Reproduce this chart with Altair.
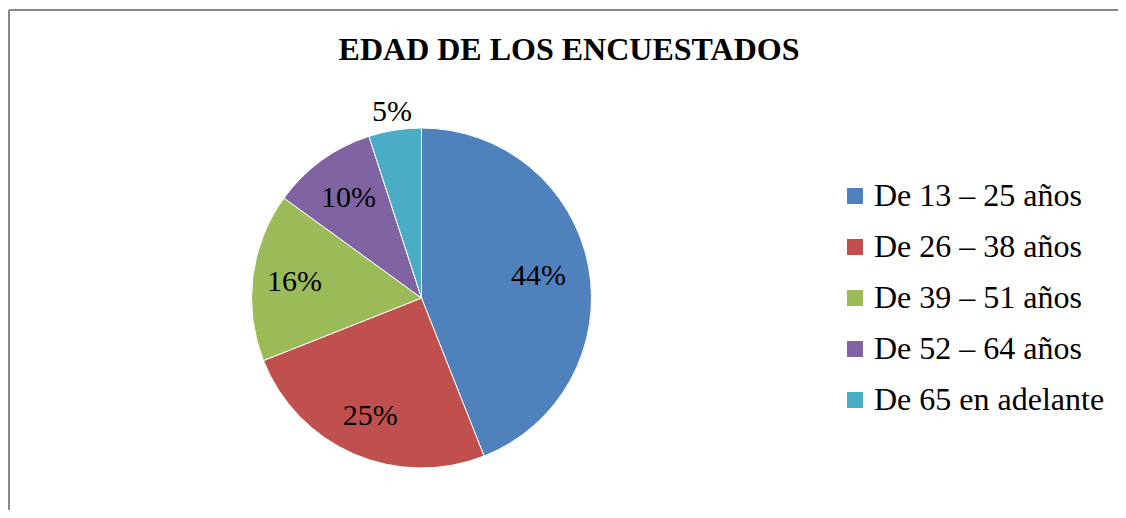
import altair as alt
import pandas as pd

categories = ["De 13 – 25 años", "De 26 – 38 años", "De 39 – 51 años", "De 52 – 64 años", "De 65 en adelante"]
values = [44, 25, 16, 10, 5]
labels = ["44%", "25%", "16%", "10%", "5%"]
label_radius = [119, 129, 128, 124, 188]
colors = ["#4F81BD", "#C0504D", "#9BBB59", "#8064A2", "#4BACC6"]
title_text = "EDAD DE LOS ENCUESTADOS"

df = pd.DataFrame({
    "cat": categories,
    "val": values,
    "lab": labels,
    "r": label_radius,
    "ord": list(range(len(categories))),
})

FONT = "Liberation Serif"
CX, CY = 413.5, 290
theta_scale = alt.Scale(domain=[0, 100])

pie = alt.Chart(df).mark_arc(outerRadius=170, stroke="white", strokeWidth=1).encode(
    theta=alt.Theta("val:Q", stack=True, scale=theta_scale),
    order=alt.Order("ord:Q"),
    x=alt.value(CX),
    y=alt.value(CY),
    color=alt.Color(
        "cat:N",
        scale=alt.Scale(domain=categories, range=colors),
        sort=categories,
        legend=alt.Legend(
            orient="none", legendX=831, legendY=172, title=None,
            symbolType="square", symbolSize=256, symbolStrokeWidth=0,
            labelFont=FONT, labelFontSize=32, labelColor="black",
            labelOffset=3, rowPadding=19, padding=0, labelLimit=400,
        ),
    ),
)

text = alt.Chart(df).transform_stack(
    stack="val", groupby=[], as_=["v0", "v1"], sort=[alt.SortField("ord", order="ascending")]
).transform_calculate(
    mid="(datum.v0 + datum.v1) / 2"
).mark_text(font=FONT, fontSize=30, color="black").encode(
    theta=alt.Theta("mid:Q", stack=None, scale=theta_scale),
    radius=alt.Radius("r:Q", scale=None),
    x=alt.value(CX),
    y=alt.value(CY),
    text="lab:N",
)

title = alt.Chart(alt.Data(values=[{"t": title_text}])).mark_text(
    font=FONT, fontSize=32, fontWeight="bold", color="black", baseline="alphabetic"
).encode(x=alt.value(561), y=alt.value(52), text="t:N")

border_top = alt.Chart(alt.Data(values=[{}])).mark_rule(color="#888888", strokeWidth=2).encode(
    x=alt.value(1), x2=alt.value(1118), y=alt.value(2)
)
border_left = alt.Chart(alt.Data(values=[{}])).mark_rule(color="#888888", strokeWidth=2).encode(
    x=alt.value(1), y=alt.value(2), y2=alt.value(502)
)

chart = alt.layer(pie, text, title, border_top, border_left).properties(
    width=1110, height=502, padding=0,
    autosize=alt.AutoSizeParams(type="none"),
).configure_view(stroke=None)

chart.save("out.html", embed_options={"renderer": "svg", "actions": False})
